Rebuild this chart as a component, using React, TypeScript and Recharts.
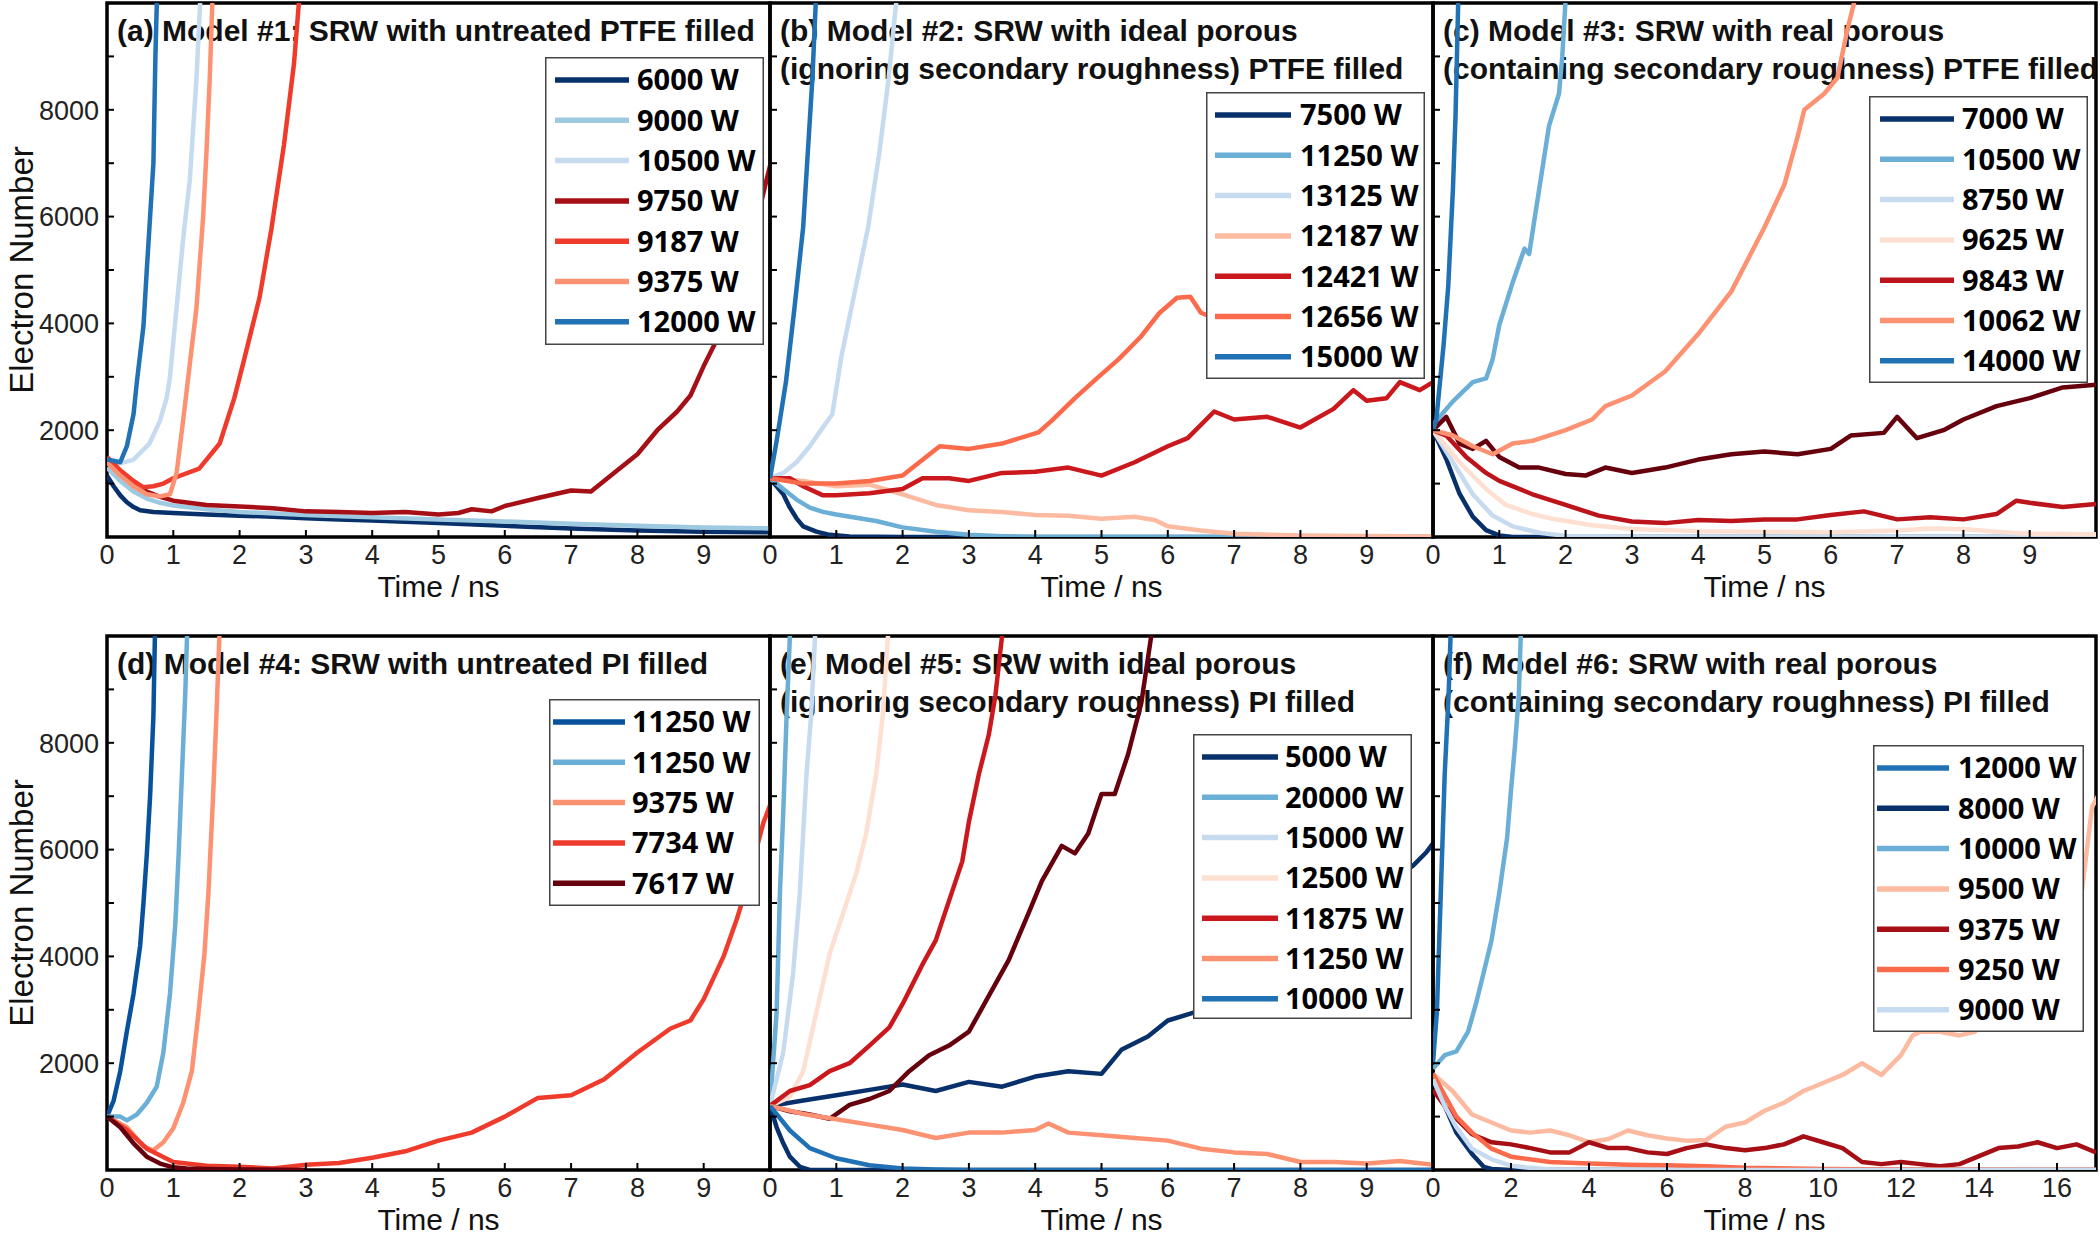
import React from 'react';
import { LineChart, Line, XAxis, YAxis, Customized } from 'recharts';

type P = [number, number];

// ---------------- Panel (a) ----------------
const a6000: P[] = [[0,1150],[0.1,950],[0.2,780],[0.3,650],[0.4,560],[0.5,500],[0.7,470],[1,450],[1.5,420],[2,400],[2.5,380],[3,350],[3.5,330],[4,310],[5,260],[6,210],[7,160],[8,120],[9,100],[10,90]];
const a9000: P[] = [[0,1300],[0.2,1050],[0.4,850],[0.6,720],[0.8,640],[1,590],[1.5,520],[2,470],[3,410],[4,370],[5,330],[6,290],[7,250],[8,210],[9,180],[10,160]];
const a10500: P[] = [[0,1400],[0.2,1380],[0.4,1450],[0.64,1750],[0.8,2180],[0.9,2600],[0.95,3000],[1.05,4300],[1.15,5600],[1.25,6700],[1.35,8600],[1.42,10400]];
const a9750: P[] = [[0,1450],[0.2,1200],[0.4,1000],[0.6,850],[0.8,750],[1,680],[1.5,600],[2,570],[2.5,540],[3,480],[3.5,470],[4,450],[4.5,470],[5,420],[5.3,450],[5.5,520],[5.8,480],[6,580],[6.5,730],[7,870],[7.3,850],[7.6,1150],[8,1550],[8.3,2000],[8.6,2350],[8.8,2650],[9,3200],[9.2,3700],[9.4,4300],[9.7,5400],[9.95,6700],[10.05,7200]];
const a9187: P[] = [[0,1500],[0.2,1250],[0.4,1050],[0.55,930],[0.7,950],[0.85,1000],[1,1100],[1.39,1280],[1.7,1750],[1.92,2600],[2.07,3330],[2.3,4480],[2.48,5770],[2.67,7350],[2.82,8860],[2.92,10400]];
const a9375: P[] = [[0,1400],[0.2,1150],[0.4,950],[0.6,800],[0.8,760],[0.95,800],[1.05,1200],[1.15,2200],[1.25,3250],[1.35,4300],[1.45,6000],[1.5,7200],[1.55,8600],[1.6,10400]];
const a12000: P[] = [[0,1450],[0.2,1400],[0.3,1700],[0.4,2300],[0.45,2900],[0.55,3950],[0.6,5000],[0.65,6000],[0.7,7000],[0.73,9000],[0.76,10400]];

// ---------------- Panel (b) ----------------
const b7500: P[] = [[0,1100],[0.1,950],[0.2,800],[0.3,550],[0.4,350],[0.5,200],[0.7,100],[0.9,40],[1.2,10],[2,0],[10,0]];
const b11250: P[] = [[0,1100],[0.2,900],[0.4,700],[0.6,550],[0.8,470],[1,420],[1.3,360],[1.6,300],[2,180],[2.5,100],[3,40],[3.5,15],[4,0],[10,0]];
const b13125: P[] = [[0,1100],[0.2,1200],[0.4,1400],[0.6,1700],[0.74,1950],[0.94,2300],[1.08,3400],[1.28,4600],[1.48,5800],[1.65,7200],[1.79,8600],[1.89,9850],[1.95,10500]];
const b12187: P[] = [[0,1100],[0.5,1050],[1,950],[1.5,980],[2,800],[2.5,600],[3,500],[3.5,470],[4,410],[4.5,400],[5,340],[5.5,380],[5.8,320],[6,200],[6.5,120],[7,60],[8,30],[9,20],[10,10]];
const b12421: P[] = [[0,1100],[0.3,1100],[0.5,950],[0.8,780],[1,780],[1.5,820],[2,900],[2.3,1100],[2.7,1100],[3,1050],[3.5,1200],[4,1220],[4.5,1300],[5,1150],[5.5,1400],[6,1700],[6.3,1850],[6.7,2350],[7,2200],[7.5,2250],[8,2050],[8.5,2400],[8.8,2750],[9,2550],[9.3,2600],[9.5,2900],[9.8,2750],[10,2900]];
const b12656: P[] = [[0,1100],[0.5,1000],[1,1000],[1.5,1050],[2,1150],[2.56,1700],[3,1650],[3.5,1750],[4.05,1960],[4.25,2180],[4.6,2600],[4.93,2970],[5.26,3330],[5.6,3760],[5.87,4190],[6.14,4480],[6.34,4500],[6.5,4200],[6.7,4100]];
const b15000: P[] = [[0,1100],[0.1,1800],[0.24,2900],[0.37,4300],[0.5,5800],[0.57,7200],[0.64,8600],[0.69,10000],[0.72,10500]];

// ---------------- Panel (c) ----------------
const c7000: P[] = [[0,2000],[0.2,1460],[0.4,810],[0.6,380],[0.8,130],[1,30],[1.2,0],[10,0]];
const c10500: P[] = [[0,2100],[0.1,2250],[0.3,2540],[0.6,2900],[0.8,2970],[0.9,3330],[1,3970],[1.2,4760],[1.38,5400],[1.45,5300],[1.5,5700],[1.6,6500],[1.75,7700],[1.9,8300],[1.95,9000],[2.02,10500]];
const c8750: P[] = [[0,2000],[0.3,1400],[0.6,800],[0.9,400],[1.2,200],[1.6,80],[2,20],[3,0],[10,0]];
const c9625: P[] = [[0,2000],[0.4,1400],[0.8,900],[1.1,600],[1.5,430],[1.8,340],[2.4,220],[3,150],[4,110],[5,100],[6,90],[7,120],[7.5,160],[8,150],[8.5,100],[9,60],[10,50]];
const c9843: P[] = [[0,2000],[0.2,1900],[0.5,1500],[0.8,1200],[1,1050],[1.3,900],[1.5,800],[2,600],[2.5,400],[3,290],[3.5,260],[4,320],[4.5,300],[5,330],[5.5,330],[6,410],[6.5,480],[7,330],[7.5,370],[8,330],[8.5,430],[8.8,680],[9,640],[9.5,560],[10,620]];
const cUnlabeled: P[] = [[0,2000],[0.2,2250],[0.4,1750],[0.6,1650],[0.8,1800],[1,1500],[1.3,1300],[1.6,1300],[2,1180],[2.3,1150],[2.6,1300],[3,1200],[3.5,1300],[4,1450],[4.5,1550],[5,1600],[5.5,1550],[6,1650],[6.3,1900],[6.8,1950],[7,2250],[7.3,1850],[7.7,2000],[8,2200],[8.5,2450],[9,2600],[9.5,2800],[10,2850]];
const c10062: P[] = [[0,2000],[0.3,1900],[0.6,1700],[0.9,1550],[1.2,1750],[1.5,1800],[2,2000],[2.4,2200],[2.6,2450],[3,2650],[3.5,3100],[4,3800],[4.5,4600],[5,5800],[5.3,6600],[5.5,7500],[5.6,8000],[5.9,8300],[6.1,8600],[6.25,9500],[6.45,10500]];
const c14000: P[] = [[0,2000],[0.05,2200],[0.16,3600],[0.23,4700],[0.3,6500],[0.34,7900],[0.38,10000],[0.4,10500]];

// ---------------- Panel (d) ----------------
const d11250a: P[] = [[0,1000],[0.1,1300],[0.2,1850],[0.3,2600],[0.4,3300],[0.5,4200],[0.55,5000],[0.6,5900],[0.65,7000],[0.7,8500],[0.73,10500]];
const d11250b: P[] = [[0,1000],[0.2,1000],[0.3,930],[0.45,1040],[0.6,1260],[0.75,1560],[0.85,2200],[0.95,3300],[1.03,4600],[1.08,5900],[1.13,7400],[1.18,8900],[1.22,10500]];
const d9375: P[] = [[0,1000],[0.3,800],[0.55,440],[0.7,370],[0.85,520],[1,780],[1.15,1260],[1.28,1850],[1.38,2950],[1.47,4050],[1.53,5200],[1.6,7000],[1.65,8500],[1.71,10500]];
const d7734: P[] = [[0,1000],[0.3,750],[0.6,400],[1,150],[1.5,80],[2,60],[2.5,30],[3,100],[3.5,130],[4,230],[4.5,350],[5,550],[5.5,700],[6,1000],[6.5,1350],[7,1400],[7.5,1700],[8,2200],[8.5,2650],[8.8,2800],[9,3200],[9.3,4000],[9.5,4700],[9.6,5100],[9.9,6500],[10.05,7000]];
const d7617: P[] = [[0,1000],[0.2,800],[0.4,500],[0.6,250],[0.8,120],[1,50],[1.2,30],[1.5,20],[2,10],[3,0]];

// ---------------- Panel (e) ----------------
const e5000: P[] = [[0,1200],[0.5,1300],[1,1400],[1.5,1500],[2,1600],[2.5,1480],[3,1650],[3.5,1560],[4,1750],[4.5,1850],[5,1800],[5.3,2250],[5.7,2500],[6,2800],[6.4,2950],[7,3300],[8,4000],[9,5000],[9.7,5700],[9.9,5950],[10.05,6200]];
const e20000: P[] = [[0,1200],[0.1,2950],[0.15,5200],[0.2,6700],[0.25,8500],[0.3,10000],[0.32,10500]];
const e15000: P[] = [[0,1200],[0.2,2200],[0.35,3700],[0.45,5200],[0.55,7400],[0.62,8500],[0.68,10000],[0.7,10500]];
const e12500: P[] = [[0,1200],[0.3,1370],[0.5,1850],[0.7,2950],[0.9,4050],[1.1,4800],[1.3,5550],[1.45,6300],[1.6,7400],[1.7,8500],[1.78,10000],[1.8,10500]];
const e11875: P[] = [[0,1200],[0.3,1480],[0.6,1590],[0.9,1850],[1.2,2000],[1.5,2330],[1.8,2670],[2,3110],[2.3,3850],[2.5,4300],[2.7,5040],[2.9,5780],[3,6520],[3.15,7410],[3.3,8150],[3.4,8890],[3.5,10000],[3.52,10500]];
const eUnlabeledRed: P[] = [[0,1200],[0.3,1100],[0.6,1040],[0.9,960],[1.2,1220],[1.5,1330],[1.8,1480],[2.1,1850],[2.4,2150],[2.7,2330],[3,2590],[3.3,3260],[3.6,3930],[3.9,4810],[4.1,5410],[4.4,6070],[4.6,5930],[4.8,6300],[5,7040],[5.2,7040],[5.4,7780],[5.6,8740],[5.75,10000],[5.8,10500]];
const e11250: P[] = [[0,1200],[0.5,1050],[1,950],[1.5,850],[2,750],[2.5,600],[3,700],[3.5,700],[4,750],[4.2,870],[4.5,700],[5,650],[5.5,600],[6,550],[6.5,400],[7,330],[7.5,300],[8,150],[8.5,150],[9,120],[9.5,170],[10,100]];
const e10000: P[] = [[0,1200],[0.3,740],[0.6,410],[1,220],[1.5,90],[2,30],[2.5,10],[3,0],[10,0]];
const eUnlabeledNavy: P[] = [[0,1200],[0.1,800],[0.2,500],[0.3,250],[0.45,60],[0.6,0],[10,0]];

// ---------------- Panel (f) ----------------
const f12000: P[] = [[0,2000],[0.1,2960],[0.2,5190],[0.3,7410],[0.4,8890],[0.45,10000],[0.47,10500]];
const f8000: P[] = [[0,1800],[0.3,1200],[0.6,700],[1,300],[1.3,60],[1.5,20],[2,0],[17,0]];
const f10000: P[] = [[0,1900],[0.3,2150],[0.6,2220],[0.9,2590],[1.1,3110],[1.3,3700],[1.5,4300],[1.7,5190],[1.9,6220],[2,7110],[2.1,7930],[2.2,8890],[2.25,10000],[2.28,10500]];
const f9500: P[] = [[0,1800],[0.5,1480],[1,1040],[1.5,890],[2,740],[2.5,700],[3,740],[3.5,650],[4,520],[4.5,580],[5,740],[5.5,650],[6,590],[6.5,550],[7,560],[7.5,810],[8,890],[8.5,1110],[9,1260],[9.5,1480],[10,1630],[10.5,1780],[11,2000],[11.5,1780],[12,2150],[12.3,2520],[12.5,2590],[13,2590],[13.5,2520],[13.9,2590],[14.5,3000],[15.5,4000],[16.6,5000],[16.9,6800],[17.05,7000]];
const f9375: P[] = [[0,1500],[0.3,1200],[0.6,960],[1,670],[1.5,520],[2,480],[2.5,410],[3,330],[3.5,330],[4,520],[4.5,410],[5,410],[5.5,330],[6,300],[6.5,410],[7,480],[7.5,410],[8,370],[8.5,410],[9,480],[9.5,630],[10,520],[10.5,410],[11,150],[11.5,110],[12,150],[12.5,110],[13,70],[13.5,110],[14,260],[14.5,410],[15,440],[15.5,520],[16,410],[16.5,480],[17,330]];
const f9250: P[] = [[0,1800],[0.3,1400],[0.6,1000],[1,700],[1.5,400],[2,250],[3,150],[4,120],[5,100],[6,90],[7,70],[8,40],[10,20],[12,10],[17,5]];
const f9000: P[] = [[0,1700],[0.3,1200],[0.6,800],[1,400],[1.5,200],[2,80],[2.5,40],[3,10],[4,0],[17,0]];

// ---------------- axes ----------------
const Y_TICKS = [0, 1000, 2000, 3000, 4000, 5000, 6000, 7000, 8000, 9000, 10000];
const Y_LABELS = [2000, 4000, 6000, 8000];
const X_TICKS_10 = [0, 1, 2, 3, 4, 5, 6, 7, 8, 9];
const X_TICKS_17 = [0, 2, 4, 6, 8, 10, 12, 14, 16];

// ---------------- styles ----------------
const NAVY = '#08306b';
const DBLUE = '#08519c';
const BLUE = '#2171b5';
const MBLUE = '#6baed6';
const LBLUE = '#9ecae1';
const VLBLUE = '#c6dbef';
const VLPINK = '#fee0d2';
const LSALMON = '#fcbba1';
const SALMON = '#fc9272';
const CORAL = '#fb6a4a';
const RED = '#ef3b2c';
const CRIMSON = '#cb181d';
const DRED = '#a50f15';
const MAROON = '#67000d';

const SANS = "'Liberation Sans', Arial, sans-serif";
const LEGF = "'Open Sans', sans-serif";

const PW = 663;
const PH = 534;
const MT = 12;
const MR = 12;
const XH = 66;

interface S { name: string; pts: P[]; color: string; legend: boolean }
interface Cfg {
  id: string; title: string[]; x0: number; y0: number; xMax: number; xTicks: number[]; yLabels: boolean; series: S[];
  lg: { dx: number; dy: number; w: number; h: number; lx0: number; lx1: number; tx: number };
}

const s = (name: string, pts: P[], color: string, legend = true): S => ({ name, pts, color, legend });

const PANELS: Cfg[] = [
  {
    id: 'a', title: ['(a) Model #1: SRW with untreated PTFE filled'], x0: 107, y0: 3, xMax: 10, xTicks: X_TICKS_10, yLabels: true,
    series: [s('6000 W', a6000, NAVY), s('9000 W', a9000, LBLUE), s('10500 W', a10500, VLBLUE), s('9750 W', a9750, DRED), s('9187 W', a9187, RED), s('9375 W', a9375, SALMON), s('12000 W', a12000, BLUE)],
    lg: { dx: 438, dy: 54, w: 219, h: 288, lx0: 10, lx1: 84, tx: 92 },
  },
  {
    id: 'b', title: ['(b) Model #2: SRW with ideal porous', '(ignoring secondary roughness) PTFE filled'], x0: 770, y0: 3, xMax: 10, xTicks: X_TICKS_10, yLabels: false,
    series: [s('7500 W', b7500, NAVY), s('11250 W', b11250, MBLUE), s('13125 W', b13125, VLBLUE), s('12187 W', b12187, LSALMON), s('12421 W', b12421, CRIMSON), s('12656 W', b12656, CORAL), s('15000 W', b15000, BLUE)],
    lg: { dx: 436, dy: 89, w: 219, h: 287, lx0: 9, lx1: 85, tx: 94 },
  },
  {
    id: 'c', title: ['(c) Model #3: SRW with real porous', '(containing secondary roughness) PTFE filled'], x0: 1433, y0: 3, xMax: 10, xTicks: X_TICKS_10, yLabels: false,
    series: [s('7000 W', c7000, NAVY), s('10500 W', c10500, MBLUE), s('8750 W', c8750, VLBLUE), s('9625 W', c9625, VLPINK), s('', cUnlabeled, MAROON, false), s('9843 W', c9843, '#bb141b'), s('10062 W', c10062, SALMON), s('14000 W', c14000, BLUE)],
    lg: { dx: 436, dy: 93, w: 219, h: 287, lx0: 11, lx1: 85, tx: 93 },
  },
  {
    id: 'd', title: ['(d) Model #4: SRW with untreated PI filled'], x0: 107, y0: 636, xMax: 10, xTicks: X_TICKS_10, yLabels: true,
    series: [s('11250 W', d11250a, DBLUE), s('11250 W', d11250b, MBLUE), s('9375 W', d9375, SALMON), s('7734 W', d7734, RED), s('7617 W', d7617, MAROON)],
    lg: { dx: 442, dy: 63, w: 211, h: 207, lx0: 4, lx1: 76, tx: 83 },
  },
  {
    id: 'e', title: ['(e) Model #5: SRW with ideal porous', '(ignoring secondary roughness) PI filled'], x0: 770, y0: 636, xMax: 10, xTicks: X_TICKS_10, yLabels: false,
    series: [s('5000 W', e5000, NAVY), s('', eUnlabeledNavy, NAVY, false), s('20000 W', e20000, MBLUE), s('15000 W', e15000, VLBLUE), s('12500 W', e12500, VLPINK), s('', eUnlabeledRed, MAROON, false), s('11875 W', e11875, CRIMSON), s('11250 W', e11250, SALMON), s('10000 W', e10000, BLUE)],
    lg: { dx: 423, dy: 98, w: 219, h: 285, lx0: 9, lx1: 85, tx: 92 },
  },
  {
    id: 'f', title: ['(f) Model #6: SRW with real porous', '(containing secondary roughness) PI filled'], x0: 1433, y0: 636, xMax: 17, xTicks: X_TICKS_17, yLabels: false,
    series: [s('12000 W', f12000, BLUE), s('8000 W', f8000, NAVY), s('10000 W', f10000, MBLUE), s('9500 W', f9500, LSALMON), s('9375 W', f9375, DRED), s('9250 W', f9250, CORAL), s('9000 W', f9000, VLBLUE)],
    lg: { dx: 440, dy: 109, w: 211, h: 287, lx0: 4, lx1: 76, tx: 85 },
  },
];

const rows = (pts: P[]) => pts.map(([t, n]) => ({ t, n }));

const XTick = (props: any) => {
  const { x, y, payload } = props;
  return (
    <g>
      <line x1={x} x2={x} y1={y} y2={y - 7} stroke="#000" strokeWidth={2} />
      <text x={x} y={y + 27} textAnchor="middle" fontFamily={SANS} fontSize={27} fill="#222">{payload.value}</text>
    </g>
  );
};

const makeYTick = (show: boolean) => (props: any) => {
  const { x, y, payload } = props;
  return (
    <g>
      <line x1={x} x2={x + 7} y1={y} y2={y} stroke="#000" strokeWidth={2} />
      {show && Y_LABELS.includes(payload.value) ? (
        <text x={x - 8} y={y} dy="0.36em" textAnchor="end" fontFamily={SANS} fontSize={27} fill="#222">{payload.value}</text>
      ) : null}
    </g>
  );
};

const Decor = (props: any) => {
  const { cfg, ml } = props as { cfg: Cfg; ml: number };
  const cy = MT + PH / 2;
  return (
    <g>
      <rect x={ml} y={MT} width={PW} height={PH} fill="none" stroke="#000" strokeWidth={3.5} />
      {cfg.title.map((t, i) => (
        <text key={i} x={ml + 10} y={MT + 37.5 + i * 38.5} fontFamily={SANS} fontWeight={700} fontSize={30} fill="#111">{t}</text>
      ))}
      <text x={ml + PW / 2} y={MT + PH + 60} textAnchor="middle" fontFamily={SANS} fontSize={30} fill="#111">Time / ns</text>
      {cfg.yLabels ? (
        <text x={33} y={cy} transform={`rotate(-90 33 ${cy})`} textAnchor="middle" fontFamily={SANS} fontSize={33} fill="#111">Electron Number</text>
      ) : null}
    </g>
  );
};

const LegendBox = ({ cfg, ml }: { cfg: Cfg; ml: number }) => {
  const { lg } = cfg;
  const items = cfg.series.filter((x) => x.legend);
  return (
    <div style={{ position: 'absolute', left: ml + lg.dx, top: MT + lg.dy, width: lg.w, height: lg.h, background: '#fff' }}>
      <svg width={lg.w} height={lg.h} style={{ display: 'block' }}>
        <rect x={0.75} y={0.75} width={lg.w - 1.5} height={lg.h - 1.5} fill="#fff" stroke="#444" strokeWidth={1.5} />
        {items.map((it, i) => {
          const cy = 23 + i * 40.3;
          return (
            <g key={i}>
              <line x1={lg.lx0} x2={lg.lx1} y1={cy} y2={cy} stroke={it.color} strokeWidth={5.5} />
              <text x={lg.tx} y={cy + 10.4} fontFamily={LEGF} fontWeight={700} fontSize={29} fill="#000">{it.name}</text>
            </g>
          );
        })}
      </svg>
    </div>
  );
};

const Panel = ({ cfg }: { cfg: Cfg }) => {
  const ml = cfg.yLabels ? 107 : 12;
  const W = ml + PW + MR;
  const H = MT + PH + XH;
  return (
    <div style={{ position: 'absolute', left: cfg.x0 - ml, top: cfg.y0 - MT, width: W, height: H }}>
      <LineChart width={W} height={H} margin={{ top: MT, right: MR, bottom: 0, left: 0 }}>
        <XAxis type="number" dataKey="t" domain={[0, cfg.xMax]} ticks={cfg.xTicks} interval={0} allowDataOverflow height={XH}
          tickSize={0} tickMargin={0} axisLine={false} tickLine={false} tick={(p: any) => <XTick {...p} />} />
        <YAxis type="number" dataKey="n" domain={[0, 10000]} ticks={Y_TICKS} interval={0} allowDataOverflow width={ml}
          tickSize={0} tickMargin={0} axisLine={false} tickLine={false} tick={makeYTick(cfg.yLabels)} />
        {cfg.series.map((se, i) => (
          <Line key={cfg.id + i} data={rows(se.pts)} dataKey="n" name={se.name || `extra${i}`} type="linear" stroke={se.color}
            strokeWidth={4.5} strokeLinejoin="round" dot={false} activeDot={false} isAnimationActive={false} legendType="none" />
        ))}
        <Customized component={<Decor cfg={cfg} ml={ml} />} />
      </LineChart>
      <LegendBox cfg={cfg} ml={ml} />
    </div>
  );
};

export default function App() {
  return (
    <div style={{ position: 'absolute', left: 0, top: 0, width: 2100, height: 1238, background: '#fff', overflow: 'hidden' }}>
      {PANELS.map((p) => (
        <Panel key={p.id} cfg={p} />
      ))}
    </div>
  );
}
